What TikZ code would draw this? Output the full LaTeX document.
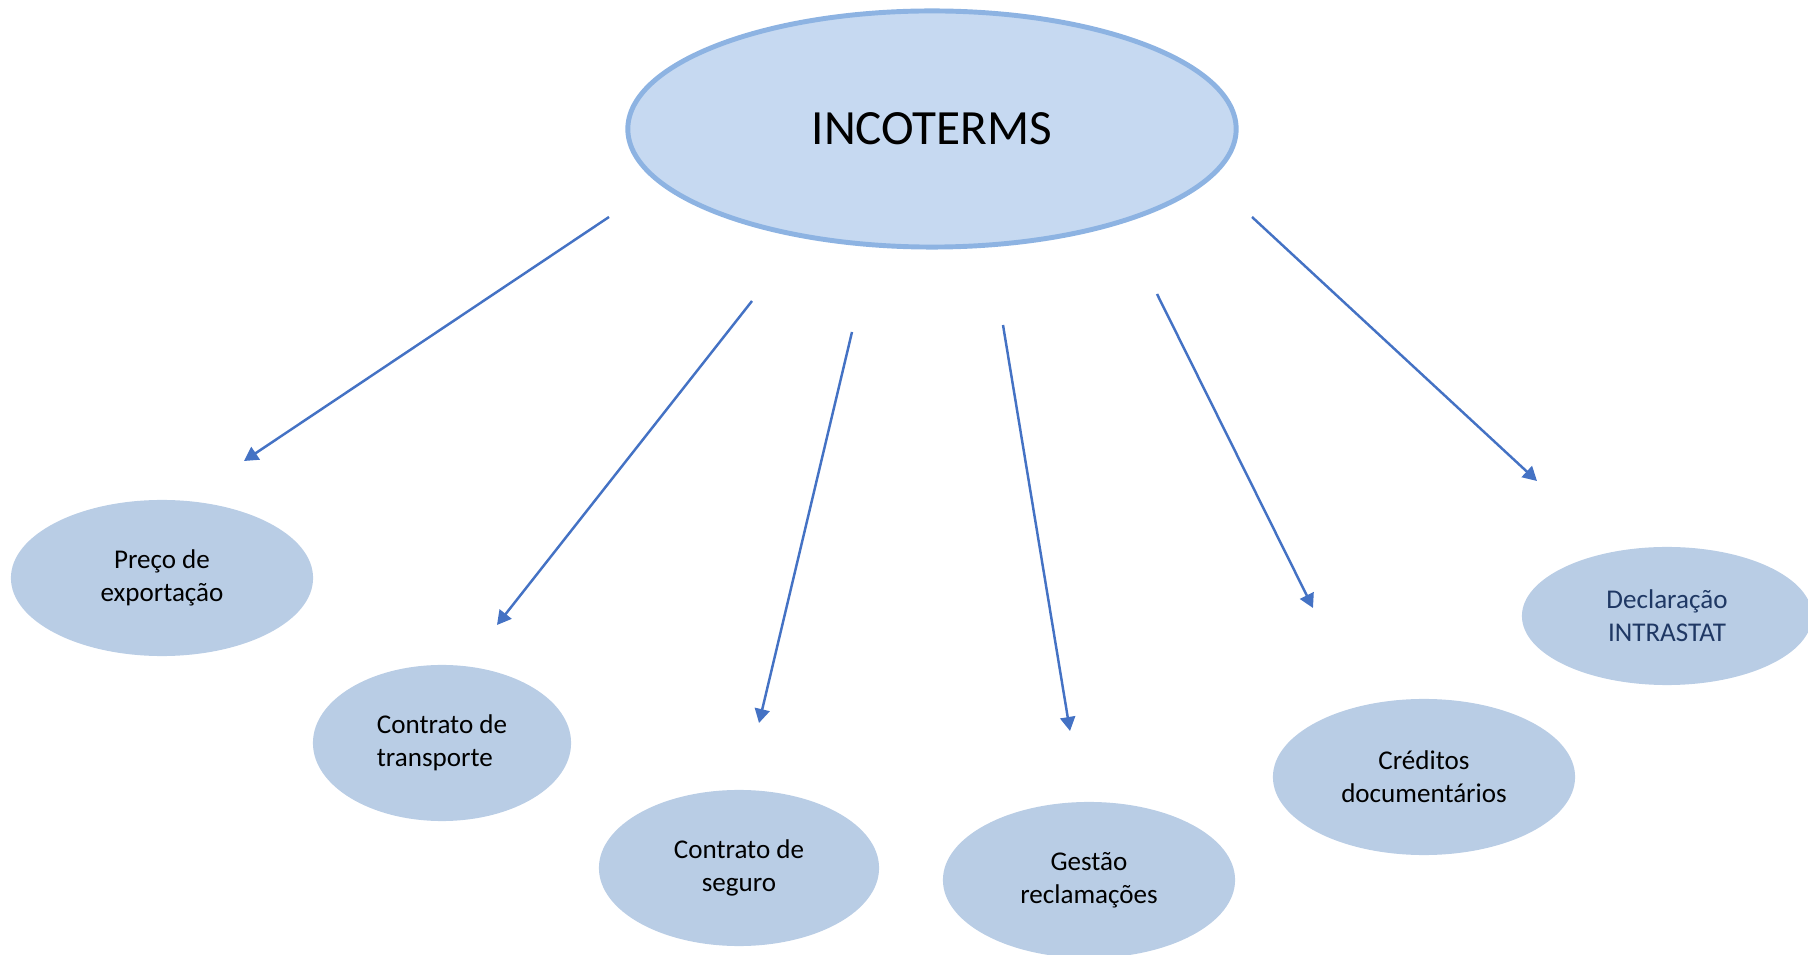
\documentclass[tikz,border=0pt]{standalone}
\usepackage{fontspec}
\setmainfont{Carlito}
\usepackage{xcolor}
\usetikzlibrary{arrows.meta}
\usetikzlibrary{shapes,positioning,calc}

\definecolor{mainfill}{HTML}{C6D9F1}
\definecolor{mainline}{HTML}{8DB3E2}
\definecolor{subfill}{HTML}{B9CDE5}
\definecolor{arrowblue}{HTML}{4472C4}
\definecolor{navytext}{HTML}{1F3864}

\begin{document}
\begin{tikzpicture}[x=0.01cm,y=-0.01cm,
		topic/.style={ellipse,fill=mainfill,draw=mainline,line width=1.4pt,inner sep=0pt,
			minimum width=6.08cm,minimum height=2.36cm,font=\fontsize{14}{17}\selectfont},
		item/.style={ellipse,fill=subfill,inner sep=0pt,minimum height=1.56cm,align=center,
			font=\fontsize{7.7}{9.3}\selectfont},
		link/.style={-{Triangle[length=0.14cm,width=0.15cm]},draw=arrowblue,line width=0.7pt}]
				\useasboundingbox (0,0) rectangle (1808,955);
				% central node and the six topics
				\node[topic] (inco) at (932,129) {INCOTERMS};
				\node[item,minimum width=3.02cm] (preco) at (162,578) {Preço de\\exportação};
				\node[item,minimum width=2.58cm,align=left] (transporte) at (442,743) {Contrato de\\transporte};
				\node[item,minimum width=2.8cm] (seguro) at (739,868) {Contrato de\\seguro};
				\node[item,minimum width=2.92cm] (gestao) at (1089,880) {Gestão\\reclamações};
				\node[item,minimum width=3.02cm] (creditos) at (1424,777) {Créditos\\documentários};
				\node[item,minimum width=2.9cm,minimum height=1.38cm,text=navytext] (intrastat) at (1667,616) {Declaração\\INTRASTAT};
				% free ends of the arrows
				\coordinate (s1) at (609,217);  \coordinate (e1) at (244,461);
				\coordinate (s2) at (752,301);  \coordinate (e2) at (497,625);
				\coordinate (s3) at (852,332);  \coordinate (e3) at (759,723);
				\coordinate (s4) at (1003,325); \coordinate (e4) at (1070,731);
				\coordinate (s5) at (1157,294); \coordinate (e5) at (1313,608);
				\coordinate (s6) at (1252,217); \coordinate (e6) at (1537,481);
				\foreach \i in {1,...,6}
					\draw[link] (s\i) -- (e\i);
			\end{tikzpicture}
\end{document}
